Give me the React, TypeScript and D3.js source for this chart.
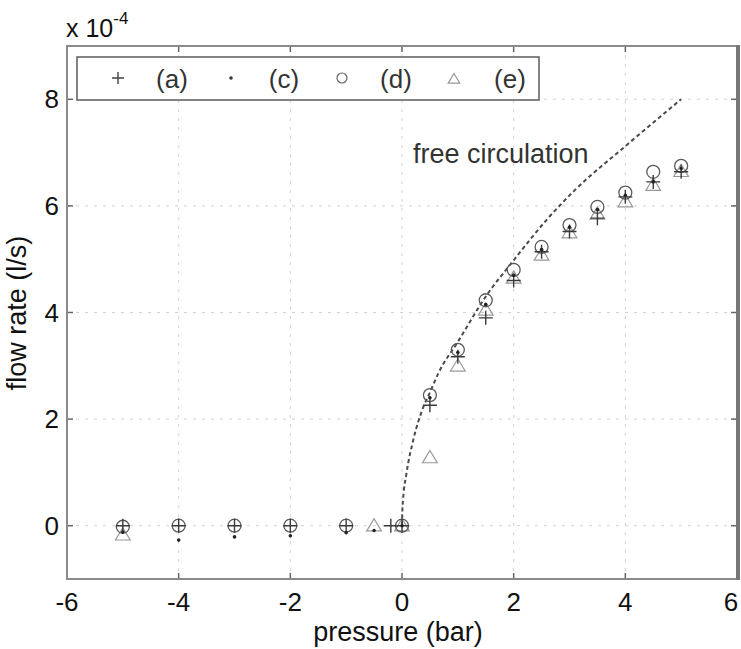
import { useEffect, useRef } from "react";
import * as d3 from "d3";

// pressure (bar) values where measurements were taken
const pressA = [-5, -4, -3, -2, -1, -0.2, 0, 0.5, 1, 1.5, 2, 2.5, 3, 3.5, 4, 4.5, 5];
const flowA = [0, 0, 0, 0, 0, 0, 0, 2.26, 3.17, 3.9, 4.6, 5.14, 5.52, 5.77, 6.17, 6.45, 6.64];

const pressC = [-5, -4, -3, -2, -1, -0.5, 0, 0.5, 1, 1.5, 2, 2.5, 3, 3.5, 4, 4.5, 5];
const flowC = [-0.12, -0.27, -0.21, -0.19, -0.13, -0.09, 0, 2.4, 3.25, 4.15, 4.7, 5.18, 5.6, 5.93, 6.2, 6.45, 6.7];

const pressD = [-5, -4, -3, -2, -1, 0, 0.5, 1, 1.5, 2, 2.5, 3, 3.5, 4, 4.5, 5];
const flowD = [-0.02, 0, 0, 0, 0, 0, 2.45, 3.3, 4.23, 4.8, 5.23, 5.64, 5.98, 6.25, 6.64, 6.75];

const pressE = [-5, -0.5, 0, 0.5, 1, 1.5, 2, 2.5, 3, 3.5, 4, 4.5, 5];
const flowE = [-0.17, 0, 0, 1.28, 3.0, 4.05, 4.65, 5.08, 5.5, 5.85, 6.08, 6.39, 6.65];

// free circulation curve
const freeP = [0, 0.005, 0.02, 0.08, 0.2, 0.38, 0.5, 0.65, 1, 1.5, 2, 2.6, 3.1, 4, 5];
const freeF = [0, 0.25, 0.5, 0.98, 1.6, 2.22, 2.5, 2.86, 3.45, 4.3, 4.98, 5.75, 6.3, 7.12, 8.0];

const xTicks = [-6, -4, -2, 0, 2, 4, 6];
const yTicks = [0, 2, 4, 6, 8];
const legendLabels = ["(a)", "(c)", "(d)", "(e)"];

const FONT = "'Liberation Sans', Arial, sans-serif";

export default function App() {
  const svgRef = useRef<SVGSVGElement>(null);

  useEffect(() => {
    d3.select(svgRef.current).selectAll("*").remove();

    const W = 741, H = 649;
    const left = 67, right = 737, top = 46, bottom = 579;

    const svg = d3.select(svgRef.current)
      .attr("width", W)
      .attr("height", H);

    svg.append("rect").attr("width", W).attr("height", H).attr("fill", "#fff");

    const x = d3.scaleLinear().domain([-6, 6]).range([left, right]);
    const y = d3.scaleLinear().domain([-1, 9]).range([bottom, top]);

    // grid
    const grid = svg.append("g")
      .attr("stroke", "#d2d2d2")
      .attr("stroke-width", 1)
      .attr("stroke-dasharray", "3,6");
    grid.selectAll("line.vx")
      .data(xTicks.slice(1, -1))
      .enter()
      .append("line")
      .attr("x1", d => x(d)).attr("x2", d => x(d))
      .attr("y1", top).attr("y2", bottom);
    grid.selectAll("line.hy")
      .data(yTicks)
      .enter()
      .append("line")
      .attr("x1", left).attr("x2", right)
      .attr("y1", d => y(d)).attr("y2", d => y(d));

    // ticks on all four sides, pointing inward
    const tk = 6;
    const ticks = svg.append("g").attr("stroke", "#666").attr("stroke-width", 1.5);
    xTicks.slice(1, -1).forEach(t => {
      ticks.append("line").attr("x1", x(t)).attr("x2", x(t)).attr("y1", bottom).attr("y2", bottom - tk);
      ticks.append("line").attr("x1", x(t)).attr("x2", x(t)).attr("y1", top).attr("y2", top + tk);
    });
    yTicks.forEach(t => {
      ticks.append("line").attr("x1", left).attr("x2", left + tk).attr("y1", y(t)).attr("y2", y(t));
      ticks.append("line").attr("x1", right).attr("x2", right - tk).attr("y1", y(t)).attr("y2", y(t));
    });

    // frame
    svg.append("rect")
      .attr("x", left).attr("y", top)
      .attr("width", right - left).attr("height", bottom - top)
      .attr("fill", "none")
      .attr("stroke", "#8a8a8a")
      .attr("stroke-width", 2);
    svg.append("line")
      .attr("x1", right + 1).attr("x2", right + 1)
      .attr("y1", top - 1).attr("y2", bottom + 1)
      .attr("stroke", "#777")
      .attr("stroke-width", 4);

    // tick labels (last one pulled in so it stays on the page)
    svg.append("g")
      .selectAll("text")
      .data(xTicks)
      .enter()
      .append("text")
      .attr("x", d => Math.min(x(d), 731))
      .attr("y", 611)
      .attr("text-anchor", "middle")
      .attr("font-family", FONT)
      .attr("font-size", 26)
      .attr("fill", "#111")
      .text(d => String(d));

    svg.append("g")
      .selectAll("text")
      .data(yTicks)
      .enter()
      .append("text")
      .attr("x", 59)
      .attr("y", d => y(d) + 9)
      .attr("text-anchor", "end")
      .attr("font-family", FONT)
      .attr("font-size", 26)
      .attr("fill", "#111")
      .text(d => String(d));

    // axis titles
    svg.append("text")
      .attr("x", 398).attr("y", 641)
      .attr("text-anchor", "middle")
      .attr("font-family", FONT)
      .attr("font-size", 27)
      .attr("fill", "#111")
      .text("pressure (bar)");

    svg.append("text")
      .attr("transform", "translate(26,313) rotate(-90)")
      .attr("text-anchor", "middle")
      .attr("font-family", FONT)
      .attr("font-size", 27)
      .attr("fill", "#111")
      .text("flow rate (l/s)");

    const expo = svg.append("text")
      .attr("x", 66).attr("y", 37)
      .attr("font-family", FONT)
      .attr("font-size", 25)
      .attr("fill", "#111");
    expo.append("tspan").text("x 10");
    expo.append("tspan").attr("dy", -13).attr("font-size", 17).text("-4");

    // free circulation dashed curve
    const line = d3.line<number>()
      .x((d, i) => x(freeP[i]))
      .y(d => y(d))
      .curve(d3.curveMonotoneX);
    svg.append("path")
      .attr("d", line(freeF))
      .attr("fill", "none")
      .attr("stroke", "#4a4a4a")
      .attr("stroke-width", 2)
      .attr("stroke-dasharray", "4,3");

    svg.append("text")
      .attr("x", 413).attr("y", 163)
      .attr("font-family", FONT)
      .attr("font-size", 27)
      .attr("fill", "#333")
      .text("free circulation");

    // markers
    const plus = (g: any, cx: number, cy: number, s: number, c: string) => {
      g.append("path")
        .attr("d", `M${cx - s},${cy}H${cx + s}M${cx},${cy - s}V${cy + s}`)
        .attr("stroke", c)
        .attr("stroke-width", 1.4)
        .attr("fill", "none");
    };
    const tri = (g: any, cx: number, cy: number, s: number, c: string) => {
      g.append("path")
        .attr("d", `M${cx},${cy - s}L${cx + s * 1.05},${cy + s * 0.75}L${cx - s * 1.05},${cy + s * 0.75}Z`)
        .attr("stroke", c)
        .attr("stroke-width", 1.2)
        .attr("fill", "none");
    };

    const marks = svg.append("g");

    pressE.forEach((p, i) => tri(marks, x(p), y(flowE[i]), 7, "#999"));

    marks.selectAll("circle.d")
      .data(pressD)
      .enter()
      .append("circle")
      .attr("cx", d => x(d))
      .attr("cy", (d, i) => y(flowD[i]))
      .attr("r", 6.5)
      .attr("fill", "none")
      .attr("stroke", "#5a5a5a")
      .attr("stroke-width", 1.3);

    pressA.forEach((p, i) => plus(marks, x(p), y(flowA[i]), 7, "#3a3a3a"));

    marks.selectAll("circle.c")
      .data(pressC)
      .enter()
      .append("circle")
      .attr("cx", d => x(d))
      .attr("cy", (d, i) => y(flowC[i]))
      .attr("r", 1.8)
      .attr("fill", "#222");

    // legend
    const legend = svg.append("g");
    legend.append("rect")
      .attr("x", 77).attr("y", 57)
      .attr("width", 462).attr("height", 43)
      .attr("fill", "#fff")
      .attr("stroke", "#666")
      .attr("stroke-width", 1.6);

    const symX = [118, 231, 342, 454];
    const txtX = [172, 284, 396, 510];
    const ly = 78;
    plus(legend, symX[0], ly, 6, "#444");
    legend.append("circle").attr("cx", symX[1]).attr("cy", ly).attr("r", 1.8).attr("fill", "#333");
    legend.append("circle").attr("cx", symX[2]).attr("cy", ly).attr("r", 5)
      .attr("fill", "none").attr("stroke", "#666").attr("stroke-width", 1.2);
    tri(legend, symX[3], ly + 1, 5.5, "#999");

    legend.selectAll("text")
      .data(legendLabels)
      .enter()
      .append("text")
      .attr("x", (d, i) => txtX[i])
      .attr("y", 88)
      .attr("text-anchor", "middle")
      .attr("font-family", FONT)
      .attr("font-size", 26)
      .attr("fill", "#333")
      .text(d => d);
  }, []);

  return <svg ref={svgRef} style={{ position: "absolute", left: 0, top: 0 }}></svg>;
}
